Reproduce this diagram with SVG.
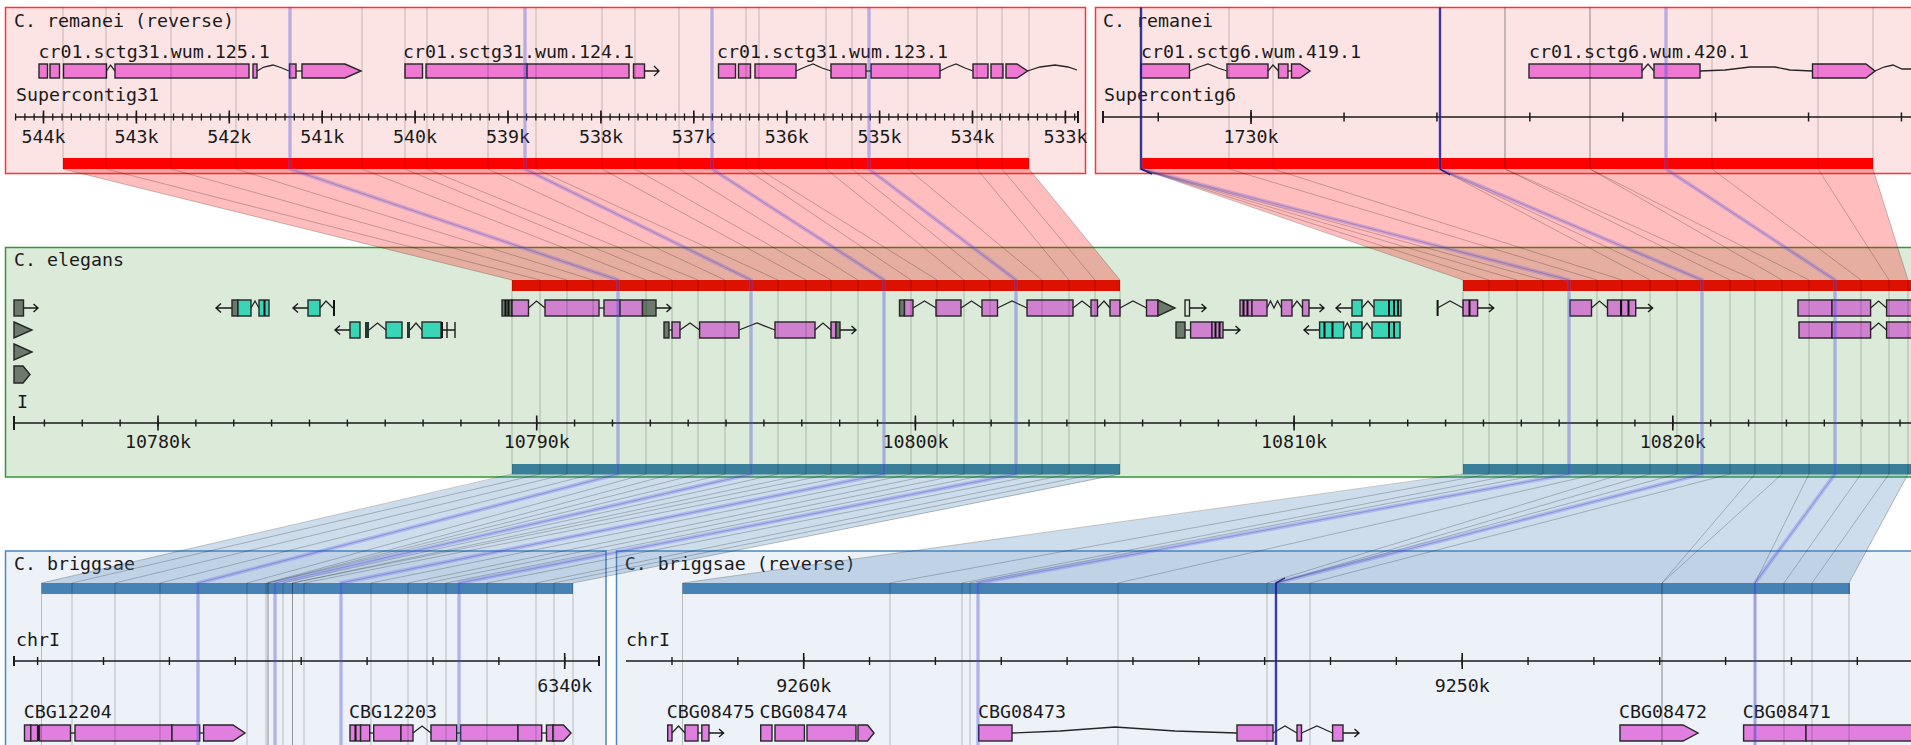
<svg xmlns="http://www.w3.org/2000/svg" width="1911" height="745" viewBox="0 0 1911 745">
<defs>
<style>
.t{font-family:"DejaVu Sans Mono","Liberation Mono",monospace;font-size:18.3px;fill:#1a1a1a}
.c{text-anchor:middle}
.e{fill:#ee78d2;stroke:#262626;stroke-width:1.4}
.em{fill:#cf80cf;stroke:#262626;stroke-width:1.4}
.eb{fill:#e07fe0;stroke:#262626;stroke-width:1.4}
.tq{fill:#38d6b6;stroke:#262626;stroke-width:1.4}
.u{fill:#6b7a6b;stroke:#262626;stroke-width:1.4}
.i{fill:none;stroke:#262626;stroke-width:1.3}
.k{fill:none;stroke:#1a1a1a;stroke-width:1.4}
.s{stroke:#111;stroke-width:2}
.ax{stroke:#1a1a1a;fill:none}
.g{fill:none;stroke:#000;stroke-opacity:.22;stroke-width:1}
.b{fill:none;stroke:#5a5aff;stroke-opacity:.28;stroke-width:4}
.n{fill:none;stroke:#1c1c78;stroke-width:1.4}
.pr{fill:#ff0000;fill-opacity:.26}
.pb{fill:#4682b4;fill-opacity:.27}
</style>
</defs>
<rect width="1911" height="745" fill="#ffffff"/>

<!-- TOP LEFT -->
<g id="remanei-reverse">
<rect x="5.5" y="7.5" width="1080" height="166" fill="#fde4e4" stroke="#ff3333" stroke-width="1.5"/>
<text class="t" x="14" y="27">C. remanei (reverse)</text>
<text class="t" x="38.6" y="58">cr01.sctg31.wum.125.1</text>
<text class="t" x="403" y="58">cr01.sctg31.wum.124.1</text>
<text class="t" x="717" y="58">cr01.sctg31.wum.123.1</text>
<rect class="e" x="39" y="64" width="8.5" height="14"/>
<rect class="e" x="50" y="64" width="9.5" height="14"/>
<rect class="e" x="63.5" y="64" width="43" height="14"/>
<polyline class="i" points="106.5,71 110.5,65 115,71"/>
<rect class="e" x="115" y="64" width="134" height="14"/>
<rect class="e" x="253" y="64" width="4" height="14"/>
<polyline class="i" points="257,71 264,67 273,65 282,68 289,71"/>
<rect class="e" x="289.5" y="64" width="6.5" height="14"/>
<path class="i" d="M296 71H302"/>
<polygon class="e" points="302,64 345,64 361,71 345,78 302,78"/>
<rect class="e" x="405" y="64" width="17.5" height="14"/>
<rect class="e" x="426" y="64" width="101" height="14"/>
<rect class="e" x="527" y="64" width="102" height="14"/>
<rect class="e" x="633.5" y="64" width="11" height="14"/>
<path class="k" d="M644.5 71H659M654 66L659 71L654 76"/>
<rect class="e" x="718.5" y="64" width="17" height="14"/>
<rect class="e" x="738.5" y="64" width="12" height="14"/>
<rect class="e" x="755" y="64" width="41" height="14"/>
<polyline class="i" points="796,71 805,67 813,64 822,68 831,71"/>
<rect class="e" x="831" y="64" width="35" height="14"/>
<path class="i" d="M866 71H871"/>
<rect class="e" x="871" y="64" width="69" height="14"/>
<polyline class="i" points="940,71 948,67 956,64 965,68 973,71"/>
<rect class="e" x="973" y="64" width="15" height="14"/>
<rect class="e" x="991" y="64" width="12" height="14"/>
<polygon class="e" points="1006,64 1017,64 1027.5,71 1017,78 1006,78"/>
<polyline class="i" points="1027.5,71 1040,67 1055,65 1068,67 1077,70"/>
<text class="t" x="16" y="101">Supercontig31</text>
<line class="ax" x1="16" y1="117" x2="1078.6" y2="117" stroke-width="1.5"/>
<line class="ax" x1="14.95" y1="117" x2="1079" y2="117" stroke-width="7" stroke-dasharray="1.3 7.99"/>
<line class="ax" x1="42.7" y1="117" x2="1070" y2="117" stroke-width="13" stroke-dasharray="1.6 91.3"/>
<line class="ax" x1="1078" y1="111" x2="1078" y2="123" stroke-width="2"/>
<g class="t c">
<text x="43.5" y="143">544k</text><text x="136.4" y="143">543k</text><text x="229.3" y="143">542k</text><text x="322.2" y="143">541k</text><text x="415.1" y="143">540k</text><text x="508" y="143">539k</text><text x="600.9" y="143">538k</text><text x="693.8" y="143">537k</text><text x="786.7" y="143">536k</text><text x="879.6" y="143">535k</text><text x="972.5" y="143">534k</text><text x="1065.4" y="143">533k</text>
</g>
<rect x="63" y="158" width="966" height="11" fill="#ff0000"/>
</g>

<!-- TOP RIGHT -->
<g id="remanei">
<rect x="1095.5" y="7.5" width="900" height="166" fill="#fde4e4" stroke="#ff3333" stroke-width="1.5"/>
<text class="t" x="1103" y="27">C. remanei</text>
<text class="t" x="1141" y="58">cr01.sctg6.wum.419.1</text>
<text class="t" x="1529" y="58">cr01.sctg6.wum.420.1</text>
<rect class="e" x="1141" y="64" width="48.5" height="14"/>
<polyline class="i" points="1189.5,71 1199,67 1208,64 1218,68 1227,71"/>
<rect class="e" x="1227" y="64" width="41" height="14"/>
<polyline class="i" points="1268,71 1273,65 1278.5,71"/>
<rect class="e" x="1278.5" y="64" width="9.5" height="14"/>
<path class="i" d="M1288 71H1291.5"/>
<polygon class="e" points="1291.5,64 1300,64 1310,71 1300,78 1291.5,78"/>
<rect class="e" x="1529" y="64" width="113" height="14"/>
<polyline class="i" points="1642,71 1648,64 1654,71"/>
<rect class="e" x="1654" y="64" width="46" height="14"/>
<polyline class="i" points="1700,71 1725,70 1750,67 1775,67 1790,70 1812.5,71"/>
<polygon class="e" points="1812.5,64 1866,64 1875,71 1866,78 1812.5,78"/>
<polyline class="i" points="1875,71 1884,67 1893,65 1902,69 1911,69"/>
<text class="t" x="1104" y="101">Supercontig6</text>
<line class="ax" x1="1103" y1="117" x2="1911" y2="117" stroke-width="1.5"/>
<line class="ax" x1="1103" y1="111" x2="1103" y2="123" stroke-width="2"/>
<line class="ax" x1="1157.5" y1="117" x2="1911" y2="117" stroke-width="9" stroke-dasharray="1.5 91.4"/>
<line class="ax" x1="1251" y1="110" x2="1251" y2="124" stroke-width="1.6"/>
<text class="t c" x="1251" y="143">1730k</text>
<rect x="1142" y="158" width="731" height="11" fill="#ff0000"/>
</g>

<!-- MIDDLE -->
<g id="elegans">
<rect x="5.5" y="247.5" width="1950" height="229.5" fill="#dcebd9" stroke="#339933" stroke-width="1.5"/>
<text class="t" x="14" y="266">C. elegans</text>
<rect x="512" y="280" width="608" height="11" fill="#dd1100"/>
<rect x="1463" y="280" width="460" height="11" fill="#dd1100"/>
<rect x="512" y="464" width="608" height="10.5" fill="#3a7f9a"/>
<rect x="1463" y="464" width="460" height="10.5" fill="#3a7f9a"/>
<rect class="u" x="14" y="300" width="9.5" height="16"/>
<path class="k" d="M23.5 308H38M33.5 304L38 308L33.5 312"/>
<polygon class="u" points="14,322 32,330 14,338"/>
<polygon class="u" points="14,344 32,352 14,360"/>
<polygon class="u" points="14,366 23,366 30,374.5 23,383 14,383"/>
<path class="k" d="M232 308H216M221 303.5L216 308L221 312.5"/>
<rect class="u" x="232" y="300" width="6" height="16"/>
<rect class="tq" x="238" y="300" width="13" height="16"/>
<polyline class="i" points="251,308 255,301 259,308"/>
<rect class="tq" x="259" y="300" width="10" height="16"/>
<path class="s" d="M264.5 300V316" stroke-width="2.5"/>
<path class="k" d="M308 308H293M298 303.5L293 308L298 312.5"/>
<rect class="tq" x="308" y="300" width="12" height="16"/>
<polyline class="i" points="320,308 326,301 333,308"/>
<path class="s" d="M334 300V316"/>
<rect class="u" x="502" y="300" width="10" height="16"/>
<path class="s" d="M505.5 300V316M508.5 300V316" stroke-width="1.5"/>
<rect class="em" x="512" y="300" width="16.5" height="16"/>
<polyline class="i" points="528.5,308 536.5,301 545,308"/>
<rect class="em" x="545" y="300" width="54" height="16"/>
<path class="i" d="M599 308H604"/>
<rect class="em" x="604" y="300" width="16" height="16"/>
<rect class="em" x="620" y="300" width="22.5" height="16"/>
<rect class="u" x="642.5" y="300" width="13.5" height="16"/>
<path class="k" d="M656 308H671M666.5 304L671 308L666.5 312"/>
<rect class="u" x="899.5" y="300" width="5" height="16"/>
<rect class="em" x="904.5" y="300" width="8.5" height="16"/>
<polyline class="i" points="913,308 924.5,301 936,308"/>
<rect class="em" x="936" y="300" width="25" height="16"/>
<polyline class="i" points="961,308 971.5,301 982,308"/>
<rect class="em" x="982" y="300" width="15.5" height="16"/>
<polyline class="i" points="997.5,308 1012,301 1027,308"/>
<rect class="em" x="1027" y="300" width="46" height="16"/>
<polyline class="i" points="1073,308 1082,301 1091,308"/>
<rect class="em" x="1091" y="300" width="6.5" height="16"/>
<polyline class="i" points="1097.5,308 1104,301 1110,308"/>
<rect class="em" x="1110" y="300" width="10" height="16"/>
<polyline class="i" points="1120,308 1133,301 1146.5,308"/>
<rect class="em" x="1146.5" y="300" width="11.5" height="16"/>
<polygon class="u" points="1158,300 1175,308 1158,316"/>
<rect x="1185" y="300" width="4.5" height="16" fill="none" stroke="#262626" stroke-width="1.4"/>
<path class="k" d="M1189.5 308H1206M1201.5 304L1206 308L1201.5 312"/>
<rect class="em" x="1240" y="300" width="12" height="16"/>
<path class="s" d="M1243.5 300V316M1247.5 300V316" stroke-width="1.5"/>
<rect class="em" x="1252" y="300" width="15" height="16"/>
<polyline class="i" points="1267,308 1270.5,301 1274,308 1277.5,301 1281.5,308"/>
<rect class="em" x="1281.5" y="300" width="10.5" height="16"/>
<polyline class="i" points="1292,308 1297,301 1302.5,308"/>
<rect class="em" x="1302.5" y="300" width="6.5" height="16"/>
<path class="k" d="M1309 308H1324M1319.5 304L1324 308L1319.5 312"/>
<path class="k" d="M1352 308H1336M1341 303.5L1336 308L1341 312.5"/>
<rect class="tq" x="1352" y="300" width="10" height="16"/>
<polyline class="i" points="1362,308 1368,301 1374,308"/>
<rect class="tq" x="1374" y="300" width="27" height="16"/>
<path class="s" d="M1389 300V316M1394 300V316M1398 300V316"/>
<path class="s" d="M1437.6 300V316"/>
<polyline class="i" points="1437.6,308 1450,301 1463,308"/>
<rect class="em" x="1463" y="300" width="14.6" height="16"/>
<path class="s" d="M1469.5 300V316" stroke-width="1.5"/>
<path class="k" d="M1477.6 308H1493.7M1489 304L1493.7 308L1489 312"/>
<rect class="em" x="1570" y="300" width="21.5" height="16"/>
<polyline class="i" points="1591.5,308 1599.5,301 1607.5,308"/>
<rect class="em" x="1607.5" y="300" width="28.2" height="16"/>
<path class="s" d="M1621 300V316M1628.5 300V316" stroke-width="1.5"/>
<path class="k" d="M1635.7 308H1652.6M1648 304L1652.6 308L1648 312"/>
<rect class="em" x="1798" y="300" width="34" height="16"/>
<rect class="em" x="1832" y="300" width="38.6" height="16"/>
<polyline class="i" points="1870.6,308 1878.6,301 1886.6,308"/>
<rect class="em" x="1886.6" y="300" width="30" height="16"/>
<path class="k" d="M350 330H335M340 325.5L335 330L340 334.5"/>
<rect class="tq" x="350" y="322" width="10" height="16"/>
<rect x="365" y="322" width="4" height="16" fill="#1d3d33"/>
<polyline class="i" points="369,330 377.5,323 386,330"/>
<rect class="tq" x="386" y="322" width="16" height="16"/>
<rect x="407" y="322" width="3" height="16" fill="#1d3d33"/>
<polyline class="i" points="410,330 416,323 422,330"/>
<rect class="tq" x="422" y="322" width="19" height="16"/>
<path class="s" d="M442 322V338" stroke-width="2.5"/>
<path class="k" d="M443 330H455M447 322V338M455 322V338"/>
<rect class="u" x="664" y="322" width="5" height="16"/>
<path class="i" d="M669 330H672"/>
<rect class="em" x="672" y="322" width="8" height="16"/>
<polyline class="i" points="680,330 690,323 699.6,330"/>
<rect class="em" x="699.6" y="322" width="39.4" height="16"/>
<polyline class="i" points="739,330 757,323 775,330"/>
<rect class="em" x="775" y="322" width="40" height="16"/>
<polyline class="i" points="815,330 823,323 831,330"/>
<rect class="em" x="831" y="322" width="5" height="16"/>
<rect class="u" x="836" y="322" width="4" height="16"/>
<path class="k" d="M840 330H856M851.5 326L856 330L851.5 334"/>
<rect class="u" x="1176" y="322" width="9" height="16"/>
<path class="i" d="M1185 330H1190.6"/>
<rect class="em" x="1190.6" y="322" width="21.4" height="16"/>
<rect class="em" x="1212" y="322" width="11" height="16"/>
<path class="s" d="M1215.5 322V338M1219.5 322V338" stroke-width="1.5"/>
<path class="k" d="M1223 330H1240M1235.5 326L1240 330L1235.5 334"/>
<path class="k" d="M1319.6 330H1304M1309 325.5L1304 330L1309 334.5"/>
<rect class="tq" x="1319.6" y="322" width="24" height="16"/>
<path class="s" d="M1324.5 322V338M1332.5 322V338" stroke-width="1.5"/>
<polyline class="i" points="1343.6,330 1347.3,323 1351,330"/>
<rect class="tq" x="1351" y="322" width="11" height="16"/>
<polyline class="i" points="1362,330 1367,323 1372,330"/>
<rect class="tq" x="1372" y="322" width="28" height="16"/>
<path class="s" d="M1389 322V338M1394 322V338"/>
<rect class="em" x="1799" y="322" width="33" height="16"/>
<rect class="em" x="1832" y="322" width="38.6" height="16"/>
<polyline class="i" points="1870.6,330 1878.6,323 1886.6,330"/>
<rect class="em" x="1886.6" y="322" width="30" height="16"/>
<text class="t" x="17" y="408">I</text>
<line class="ax" x1="14" y1="423" x2="1911" y2="423" stroke-width="1.5"/>
<line class="ax" x1="14" y1="416" x2="14" y2="430" stroke-width="2"/>
<line class="ax" x1="43.7" y1="423" x2="1911" y2="423" stroke-width="7" stroke-dasharray="1.4 36.47"/>
<line class="ax" x1="157.2" y1="423" x2="1911" y2="423" stroke-width="15" stroke-dasharray="1.6 377.1"/>
<g class="t c">
<text x="158" y="448">10780k</text><text x="536.7" y="448">10790k</text><text x="915.4" y="448">10800k</text><text x="1294.1" y="448">10810k</text><text x="1672.8" y="448">10820k</text>
</g>
</g>

<!-- BOTTOM LEFT -->
<g id="briggsae">
<rect x="5.5" y="551" width="600.5" height="250" fill="#edf1f8" stroke="#4a86bf" stroke-width="1.5"/>
<text class="t" x="14" y="570">C. briggsae</text>
<rect x="41.5" y="583" width="531.5" height="11" fill="#4682b4"/>
<text class="t" x="16" y="646">chrI</text>
<line class="ax" x1="14" y1="661" x2="599" y2="661" stroke-width="1.5"/>
<line class="ax" x1="14" y1="656" x2="14" y2="666" stroke-width="2"/>
<line class="ax" x1="599" y1="656" x2="599" y2="666" stroke-width="2"/>
<line class="ax" x1="36.9" y1="661" x2="580" y2="661" stroke-width="8" stroke-dasharray="1.4 64.5"/>
<line class="ax" x1="564.7" y1="653" x2="564.7" y2="669" stroke-width="1.6"/>
<text class="t c" x="564.7" y="692">6340k</text>
<text class="t" x="23.7" y="718">CBG12204</text>
<text class="t" x="349" y="718">CBG12203</text>
<rect class="eb" x="24.5" y="725" width="6.3" height="16"/>
<rect class="eb" x="30.8" y="725" width="6.8" height="16"/>
<rect x="37.6" y="725" width="2" height="16" fill="#1a1a1a"/>
<rect class="eb" x="39.5" y="725" width="31" height="16"/>
<path class="i" d="M70.5 733H75"/>
<rect class="eb" x="75" y="725" width="97" height="16"/>
<rect class="eb" x="172" y="725" width="27.7" height="16"/>
<path class="i" d="M199.7 733H203.6"/>
<polygon class="eb" points="203.6,725 233,725 245,733 233,741 203.6,741"/>
<rect class="eb" x="350" y="725" width="10.6" height="16"/>
<path class="s" d="M355.5 725V741" stroke-width="1.5"/>
<rect class="eb" x="360.6" y="725" width="9.1" height="16"/>
<path class="i" d="M369.7 733H373.7"/>
<rect class="eb" x="373.7" y="725" width="27.3" height="16"/>
<rect class="eb" x="401" y="725" width="12" height="16"/>
<polyline class="i" points="413,733 422,726 431,733"/>
<rect class="eb" x="431" y="725" width="25.7" height="16"/>
<path class="i" d="M456.7 733H460.6"/>
<rect class="eb" x="460.6" y="725" width="57.4" height="16"/>
<rect class="eb" x="518" y="725" width="23.7" height="16"/>
<path class="i" d="M541.7 733H546.5"/>
<rect class="eb" x="546.5" y="725" width="6.5" height="16"/>
<polygon class="eb" points="553,725 563.5,725 571,733 563.5,741 553,741"/>
</g>

<!-- BOTTOM RIGHT -->
<g id="briggsae-reverse">
<rect x="616.5" y="551" width="1400" height="250" fill="#edf1f8" stroke="#4a86bf" stroke-width="1.5"/>
<text class="t" x="624.7" y="570">C. briggsae (reverse)</text>
<rect x="682.5" y="583" width="1167.5" height="11" fill="#4682b4"/>
<text class="t" x="626" y="646">chrI</text>
<line class="ax" x1="626" y1="661" x2="1911" y2="661" stroke-width="1.5"/>
<line class="ax" x1="671.3" y1="661" x2="1911" y2="661" stroke-width="8" stroke-dasharray="1.4 64.45"/>
<line class="ax" x1="803.7" y1="653" x2="803.7" y2="669" stroke-width="1.6"/>
<line class="ax" x1="1462.2" y1="653" x2="1462.2" y2="669" stroke-width="1.6"/>
<text class="t c" x="803.7" y="692">9260k</text>
<text class="t c" x="1462.2" y="692">9250k</text>
<text class="t" x="666.8" y="718">CBG08475</text>
<text class="t" x="759.4" y="718">CBG08474</text>
<text class="t" x="978" y="718">CBG08473</text>
<text class="t" x="1619" y="718">CBG08472</text>
<text class="t" x="1742.8" y="718">CBG08471</text>
<rect class="eb" x="667.7" y="725" width="4.3" height="16"/>
<polyline class="i" points="672,733 678.5,726 685,733"/>
<rect class="eb" x="685" y="725" width="13" height="16"/>
<path class="i" d="M698 733H701.8"/>
<rect class="eb" x="701.8" y="725" width="7.2" height="16"/>
<path class="k" d="M709 733H723.6M719 729L723.6 733L719 737"/>
<rect class="eb" x="760.7" y="725" width="11.3" height="16"/>
<rect class="eb" x="775" y="725" width="29.4" height="16"/>
<rect class="eb" x="807" y="725" width="49" height="16"/>
<polygon class="eb" points="858,725 867.6,725 874,733 867.6,741 858,741"/>
<rect class="eb" x="978.7" y="725" width="33.3" height="16"/>
<polyline class="i" points="1012,733 1060,731 1115,727 1175,731 1237,733"/>
<rect class="eb" x="1237" y="725" width="36" height="16"/>
<polyline class="i" points="1273,733 1285,726 1297,733"/>
<rect class="eb" x="1297" y="725" width="4.5" height="16"/>
<polyline class="i" points="1301.5,733 1317,726 1332.6,733"/>
<rect class="eb" x="1332.6" y="725" width="10.4" height="16"/>
<path class="k" d="M1343 733H1359M1354.5 729L1359 733L1354.5 737"/>
<polygon class="eb" points="1620,725 1683,725 1698,733 1683,741 1620,741"/>
<rect class="eb" x="1743.6" y="725" width="62.4" height="16"/>
<rect class="eb" x="1806" y="725" width="110" height="16"/>
</g>

<!-- CONNECTORS -->
<g id="connectors">
<polygon class="pr" points="63,169 1029,169 1120,280 512,280"/>
<polygon class="pr" points="1142,169 1873,169 1908,280 1463,280"/>
<polygon class="pb" points="512,474.5 1120,474.5 573,583 41.5,583"/>
<polygon class="pb" points="1463,474.5 1908,474.5 1849,583 682.5,583"/>
<g class="g">
<polyline points="63,7.5 63,169 512,280 512,474 41.5,583 41.5,745"/>
<polyline points="106,7.5 106,169 540,280 540,474 72,583 72,745"/>
<polyline points="171,7.5 171,169 567,280 567,474 115,583 115,745"/>
<polyline points="236,7.5 236,169 593,280 593,474 160,583 160,745"/>
<polyline points="290,7.5 290,169 618,280 618,474 198,583 198,745"/>
<polyline points="362,7.5 362,169 646,280 646,474 247,583 247,745"/>
<polyline points="405,7.5 405,169 672,280 672,474 266,583 266,745"/>
<polyline points="427,7.5 427,169 698,280 698,474 268,583 268,745"/>
<polyline points="488,7.5 488,169 725,280 725,474 268,583 268,745"/>
<polyline points="525,7.5 525,169 751,280 751,474 275,583 275,745"/>
<polyline points="536,7.5 536,169 778,280 778,474 283,583 283,745"/>
<polyline points="602,7.5 602,169 806,280 806,474 292.5,583 292.5,745"/>
<polyline points="635,7.5 635,169 831,280 831,474 292.5,583 292.5,745"/>
<polyline points="679,7.5 679,169 858,280 858,474 304,583 304,745"/>
<polyline points="712,7.5 712,169 884,280 884,474 341,583 341,745"/>
<polyline points="746,7.5 746,169 911,280 911,474 371,583 371,745"/>
<polyline points="759,7.5 759,169 937,280 937,474 408,583 408,745"/>
<polyline points="826,7.5 826,169 964,280 964,474 427,583 427,745"/>
<polyline points="852,7.5 852,169 990,280 990,474 446,583 446,745"/>
<polyline points="869,7.5 869,169 1016,280 1016,474 459,583 459,745"/>
<polyline points="908,7.5 908,169 1042,280 1042,474 487,583 487,745"/>
<polyline points="977,7.5 977,169 1069,280 1069,474 536,583 536,745"/>
<polyline points="1002,7.5 1002,169 1095,280 1095,474 554,583 554,745"/>
<polyline points="1029,7.5 1029,169 1120,280 1120,474 573,583 573,745"/>
<polyline points="1141,7.5 1141,169 1463,280 1463,474 682.5,583 682.5,745"/>
<polyline points="1141,7.5 1141,169 1489,280 1489,474 890,583 890,745"/>
<polyline points="1141,7.5 1141,169 1517,280 1517,474 962,583 962,745"/>
<polyline points="1141,7.5 1141,169 1543,280 1543,474 970,583 970,745"/>
<polyline points="1141,7.5 1141,169 1569,280 1569,474 978,583 978,745"/>
<polyline points="1229,7.5 1229,169 1597,280 1597,474 1118,583 1118,745"/>
<polyline points="1273,7.5 1273,169 1622,280 1622,474 1267,583 1267,745"/>
<polyline points="1440,7.5 1440,169 1650,280 1650,474 1276,583 1276,745"/>
<polyline points="1440,7.5 1440,169 1677,280 1677,474 1276,583 1276,745"/>
<polyline points="1440,7.5 1440,169 1702,280 1702,474 1276,583 1276,745"/>
<polyline points="1505,7.5 1505,169 1730,280 1730,474 1310,583 1310,745"/>
<polyline points="1505,7.5 1505,169 1755,280 1755,474 1662,583 1662,745"/>
<polyline points="1590,7.5 1590,169 1782,280 1782,474 1662,583 1662,745"/>
<polyline points="1590,7.5 1590,169 1809,280 1809,474 1755,583 1755,745"/>
<polyline points="1666,7.5 1666,169 1835,280 1835,474 1755,583 1755,745"/>
<polyline points="1712,7.5 1712,169 1861,280 1861,474 1784,583 1784,745"/>
<polyline points="1818,7.5 1818,169 1889,280 1889,474 1812,583 1812,745"/>
<polyline points="1873,7.5 1873,169 1908,280 1908,474 1849,583 1849,745"/>
</g>
<g class="b">
<polyline points="290,7.5 290,169 618,280 618,474 198,583 198,745"/>
<polyline points="525,7.5 525,169 751,280 751,474 275,583 275,745"/>
<polyline points="712,7.5 712,169 884,280 884,474 341,583 341,745"/>
<polyline points="869,7.5 869,169 1016,280 1016,474 459,583 459,745"/>
<polyline points="1141,7.5 1141,169 1569,280 1569,474 978,583 978,745"/>
<polyline points="1440,7.5 1440,169 1702,280 1702,474 1276,583 1276,745"/>
<polyline points="1666,7.5 1666,169 1835,280 1835,474 1755,583 1755,745"/>
</g>
<g class="n">
<polyline points="1141,7.5 1141,169 1152,174"/>
<polyline points="1440,7.5 1440,169 1450,175"/>
<polyline points="1285,578 1276,583 1276,745"/>
</g>
</g>
</svg>
